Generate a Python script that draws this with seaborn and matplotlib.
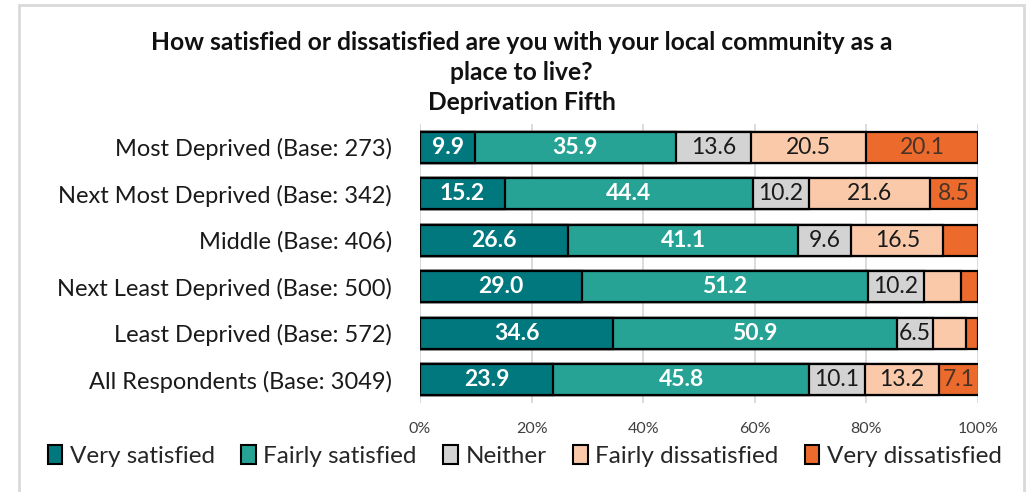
import numpy as np
import pandas as pd
import matplotlib
matplotlib.use("Agg")
import matplotlib.pyplot as plt
from matplotlib.patches import Patch, Rectangle
import seaborn as sns

categories = ["Most Deprived (Base: 273)", "Next Most Deprived (Base: 342)",
              "Middle (Base: 406)", "Next Least Deprived (Base: 500)",
              "Least Deprived (Base: 572)", "All Respondents (Base: 3049)"]
series = ["Very satisfied", "Fairly satisfied", "Neither",
          "Fairly dissatisfied", "Very dissatisfied"]
very_satisfied = [9.9, 15.2, 26.6, 29.0, 34.6, 23.9]
fairly_satisfied = [35.9, 44.4, 41.1, 51.2, 50.9, 45.8]
neither = [13.6, 10.2, 9.6, 10.2, 6.5, 10.1]
fairly_dissatisfied = [20.5, 21.6, 16.5, 6.5, 5.9, 13.2]
very_dissatisfied = [20.1, 8.5, 6.2, 3.1, 2.1, 7.1]
labels_very_sat = ["9.9", "15.2", "26.6", "29.0", "34.6", "23.9"]
labels_fairly_sat = ["35.9", "44.4", "41.1", "51.2", "50.9", "45.8"]
labels_neither = ["13.6", "10.2", "9.6", "10.2", "6.5", "10.1"]
labels_fairly_dis = ["20.5", "21.6", "16.5", "", "", "13.2"]
labels_very_dis = ["20.1", "8.5", "", "", "", "7.1"]
tick_labels = ["0%", "20%", "40%", "60%", "80%", "100%"]

colors = ["#00787E", "#27A396", "#D3D3D3", "#F9C9AA", "#EC6B2C"]
label_colors = ["white", "white", "#1a1a1a", "#1a1a1a", "#4a3328"]
label_weights = ["bold", "bold", "normal", "normal", "normal"]

sns.set_theme(style="white")
plt.rcParams['font.family'] = ['Lato', 'DejaVu Sans']

values = [very_satisfied, fairly_satisfied, neither, fairly_dissatisfied, very_dissatisfied]
all_labels = [labels_very_sat, labels_fairly_sat, labels_neither, labels_fairly_dis, labels_very_dis]
vals = np.array(values)
cum = np.cumsum(vals, axis=0)
starts = cum - vals

fig = plt.figure(figsize=(10.35, 4.92), dpi=100)
ax = fig.add_axes([420/1035, 1-403/492, 558/1035, 279/492])

for i in reversed(range(len(series))):
    df = pd.DataFrame({"cat": categories, "cum": cum[i]})
    sns.barplot(data=df, x="cum", y="cat", order=categories, color=colors[i],
                orient="h", width=0.67, edgecolor="black", linewidth=1.6,
                saturation=1, ax=ax, zorder=3)

for i in range(len(series)):
    for j in range(len(categories)):
        lab = all_labels[i][j]
        if lab:
            ax.text(starts[i][j] + vals[i][j] / 2, j, lab, ha="center", va="center",
                    color=label_colors[i], fontsize=16.5, fontweight=label_weights[i],
                    zorder=5)

ax.set_xlim(0, 100)
ax.set_ylim(5.5, -0.5)
ax.set_xticks([0, 20, 40, 60, 80, 100])
ax.set_xticklabels(tick_labels, fontsize=11.5, color="#404040")
ax.set_yticklabels(categories, fontsize=17, color="#1a1a1a")
ax.set_xlabel("")
ax.set_ylabel("")
ax.tick_params(axis="x", length=0, pad=14)
ax.tick_params(axis="y", length=0, pad=20)
for s in ax.spines.values():
    s.set_visible(False)
ax.grid(axis="x", color="#D9D9D9", linewidth=1.3, zorder=0)
ax.set_axisbelow(True)
ax.axvline(0, color="#D9D9D9", linewidth=1.3, zorder=0)

fig.text(0.504, 1-42/492, "How satisfied or dissatisfied are you with your local community as a",
         ha="center", va="center", fontsize=17.7, fontweight="bold", color="#111111")
fig.text(0.504, 1-72/492, "place to live?", ha="center", va="center",
         fontsize=17.7, fontweight="bold", color="#111111")
fig.text(0.504, 1-103/492, "Deprivation Fifth", ha="center", va="center",
         fontsize=17.7, fontweight="bold", color="#111111")

handles = [Patch(facecolor=c, edgecolor="black", linewidth=1.5) for c in colors]
fig.legend(handles, series, loc="center", bbox_to_anchor=(0.507, 1-456/492),
           ncol=5, frameon=False, fontsize=17.5, handlelength=0.6, handleheight=0.8,
           handletextpad=0.3, columnspacing=1.1)

fig.patches.append(Rectangle((19/1035, -0.05), (1024-19)/1035, 1.04, transform=fig.transFigure,
                             fill=False, edgecolor="#D9D9D9", linewidth=2))

fig.savefig("out.png", dpi=100)
